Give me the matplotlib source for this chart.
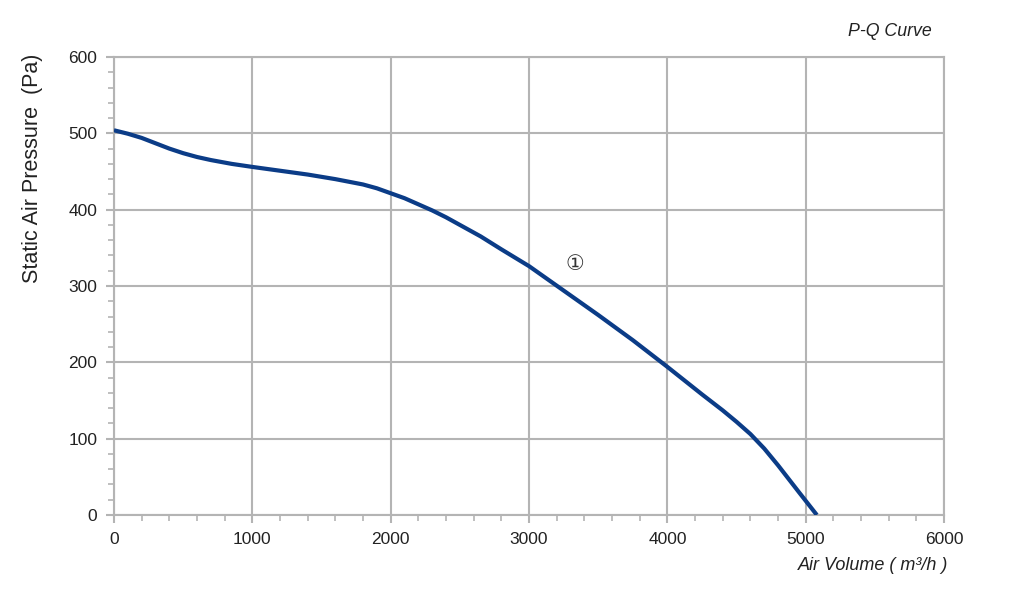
import matplotlib
matplotlib.use("Agg")
import matplotlib.pyplot as plt
from matplotlib.ticker import MultipleLocator

plt.rcParams["font.family"] = ["Liberation Sans", "DejaVu Sans"]

# P-Q curve
air_volume = [0, 100, 200, 300, 400, 500, 600, 700, 850, 1000, 1200, 1400, 1600, 1800,
              1900, 2000, 2100, 2200, 2300, 2400, 2500, 2650, 2800, 3000, 3250, 3500,
              3750, 4000, 4250, 4400, 4500, 4600, 4700, 4800, 4950, 5080]
pressure = [504, 499.5, 494, 487, 480, 474, 469, 465, 460, 456, 451, 446, 440, 433,
            428, 421.5, 415, 407, 399, 390, 380, 365, 348, 326, 294, 262,
            229, 194, 158, 137, 122, 106, 87, 65, 30, 0]
curve_label = "①"
label_pos = (3330, 329)

grid_c = "#b4b4b4"

fig = plt.figure(figsize=(10.24, 6), dpi=100)
ax = fig.add_axes([0.1113, 0.1417, 0.8107, 0.7633])

ax.plot(air_volume, pressure, color="#0b3c87", lw=3, solid_capstyle="butt",
        solid_joinstyle="round", zorder=3)
ax.text(*label_pos, curve_label, fontsize=15, color="#333333", ha="center", va="center",
        family=["DejaVu Sans"])

ax.set_xlim(0, 6000)
ax.set_ylim(0, 600)
ax.xaxis.set_major_locator(MultipleLocator(1000))
ax.xaxis.set_minor_locator(MultipleLocator(200))
ax.yaxis.set_major_locator(MultipleLocator(100))
ax.yaxis.set_minor_locator(MultipleLocator(20))
ax.grid(True, which="major", color=grid_c, lw=1.5)
ax.set_axisbelow(True)
for s in ax.spines.values():
    s.set_color(grid_c)
    s.set_linewidth(1.5)
ax.tick_params(which="both", direction="out", color=grid_c, labelsize=12.5, labelcolor="#222222")
ax.tick_params(which="major", length=6, width=1.5, pad=6)
ax.tick_params(which="minor", length=4, width=1.2)

ax.set_ylabel("Static Air Pressure  (Pa)", fontsize=15.5, color="#222222")
ax.yaxis.set_label_coords(-0.0855, 0.758)
fig.text(0.926, 0.057, "Air Volume ( m³/h )", fontsize=13, style="italic",
         color="#222222", ha="right", va="center")
fig.text(0.91, 0.947, "P-Q Curve", fontsize=12.8, style="italic", color="#222222",
         ha="right", va="center")

fig.savefig("out.png", dpi=100)
plt.close(fig)
